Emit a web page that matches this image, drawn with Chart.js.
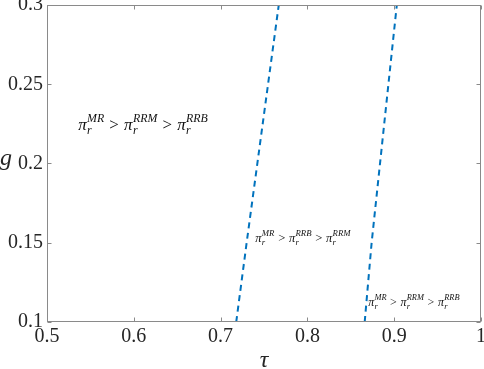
<!DOCTYPE html>
<html><head><meta charset="utf-8">
<script src="https://cdn.jsdelivr.net/npm/chart.js@4/dist/chart.umd.min.js"></script>
<style>html,body{margin:0;padding:0;background:#fff;overflow:hidden;}</style>
</head><body>
<canvas id="c" width="484" height="369"></canvas>
<script>
// ---- data ----
const xTickValues = [0.5, 0.6, 0.7, 0.8, 0.9, 1];
const xTickLabels = ['0.5', '0.6', '0.7', '0.8', '0.9', '1'];
const yTickValues = [0.1, 0.15, 0.2, 0.25, 0.3];
const yTickLabels = ['0.1', '0.15', '0.2', '0.25', '0.3'];
const boundary1Tau = [0.718, 0.730, 0.767];
const boundary1G = [0.1, 0.15, 0.3];
const boundary2Tau = [0.866, 0.874, 0.903];
const boundary2G = [0.1, 0.15, 0.3];
const regionLabelTau = [0.536, 0.740, 0.870];
const regionLabelG = [0.221, 0.1505, 0.110];
const regionOrders = [['MR', 'RRM', 'RRB'], ['MR', 'RRB', 'RRM'], ['MR', 'RRM', 'RRB']];
const xTitle = 'τ';
const yTitle = 'g';

// ---- styles ----
const SERIF = 'Times New Roman';
const TEXT = '#262626';
const AXIS = '#8a8a8a';
const BLUE = '#0072BD';
const regionFontSizes = [17, 12.5, 12];
Chart.defaults.font.family = SERIF;

function drawFormula(ctx, x, y, terms, size) {
  const s = size * 0.7;
  let cx = x;
  ctx.fillStyle = '#111';
  ctx.textAlign = 'left';
  ctx.textBaseline = 'alphabetic';
  terms.forEach((sup, i) => {
    if (i > 0) {
      ctx.font = `${size}px ${SERIF}`;
      const gap = size * 0.3;
      cx += gap;
      ctx.fillText('>', cx, y);
      cx += ctx.measureText('>').width + gap;
    }
    ctx.font = `italic ${size}px ${SERIF}`;
    ctx.fillText('π', cx, y);
    cx += ctx.measureText('π').width + size * 0.02;
    ctx.font = `italic ${s}px ${SERIF}`;
    const wr = ctx.measureText('r').width;
    ctx.fillText('r', cx, y + size * 0.22);
    const ws = ctx.measureText(sup).width;
    ctx.fillText(sup, cx, y - size * 0.5);
    cx += Math.max(wr, ws);
  });
}

const framePlugin = {
  id: 'frame',
  afterDraw(chart) {
    const ctx = chart.ctx;
    const a = chart.chartArea;
    const xs = chart.scales.x, ys = chart.scales.y;
    ctx.save();
    ctx.strokeStyle = AXIS;
    ctx.lineWidth = 1;
    const L = Math.round(a.left) + 0.5, R = Math.round(a.right) - 0.5;
    const T = Math.round(a.top) + 0.5, B = Math.round(a.bottom) - 0.5;
    ctx.strokeRect(L, T, R - L, B - T);
    const tl = 4;
    ctx.beginPath();
    xTickValues.forEach(v => {
      const px = Math.round(xs.getPixelForValue(v)) + 0.5;
      ctx.moveTo(px, B); ctx.lineTo(px, B - tl);
      ctx.moveTo(px, T); ctx.lineTo(px, T + tl);
    });
    yTickValues.forEach(v => {
      const py = Math.round(ys.getPixelForValue(v)) + 0.5;
      ctx.moveTo(L, py); ctx.lineTo(L + tl, py);
      ctx.moveTo(R, py); ctx.lineTo(R - tl, py);
    });
    ctx.stroke();
    regionOrders.forEach((terms, i) => {
      drawFormula(ctx, xs.getPixelForValue(regionLabelTau[i]), ys.getPixelForValue(regionLabelG[i]), terms, regionFontSizes[i]);
    });
    ctx.fillStyle = TEXT;
    ctx.font = `italic 24px ${SERIF}`;
    ctx.textAlign = 'left';
    ctx.textBaseline = 'alphabetic';
    ctx.fillText(yTitle, 0, 165);
    ctx.restore();
  }
};

const lineStyle = { showLine: true, borderColor: BLUE, borderWidth: 2, borderDash: [6, 4.5], pointRadius: 0, fill: false };

new Chart(document.getElementById('c'), {
  type: 'scatter',
  data: {
    datasets: [
      Object.assign({ data: boundary1Tau.map((t, i) => ({ x: t, y: boundary1G[i] })) }, lineStyle),
      Object.assign({ data: boundary2Tau.map((t, i) => ({ x: t, y: boundary2G[i] })) }, lineStyle)
    ]
  },
  options: {
    responsive: false,
    animation: false,
    devicePixelRatio: 1,
    layout: { padding: { top: 5, right: 3, left: 0, bottom: 0 } },
    plugins: { legend: { display: false }, tooltip: { enabled: false } },
    scales: {
      x: {
        type: 'linear', min: 0.5, max: 1,
        afterBuildTicks: s => { s.ticks = xTickValues.map(v => ({ value: v })); },
        ticks: {
          callback: v => xTickLabels[xTickValues.indexOf(v)],
          font: { family: SERIF, size: 20 }, color: TEXT, padding: 3, maxRotation: 0, autoSkip: false
        },
        grid: { display: false, drawTicks: false },
        border: { display: false },
        title: { display: true, text: xTitle, font: { family: SERIF, size: 24, style: 'italic', lineHeight: 1 }, color: TEXT, padding: { top: 0, bottom: -4 } },
        afterFit: s => { s.height = 47; s.paddingLeft = 0; s.paddingRight = 0; }
      },
      y: {
        type: 'linear', min: 0.1, max: 0.3,
        afterBuildTicks: s => { s.ticks = yTickValues.map(v => ({ value: v })); },
        ticks: {
          callback: v => yTickLabels[yTickValues.indexOf(v)],
          font: { family: SERIF, size: 20 }, color: TEXT, padding: 4, autoSkip: false
        },
        grid: { display: false, drawTicks: false },
        border: { display: false },
        afterFit: s => { s.width = 47; s.paddingTop = 0; s.paddingBottom = 0; }
      }
    }
  },
  plugins: [framePlugin]
});
</script>
</body></html>
